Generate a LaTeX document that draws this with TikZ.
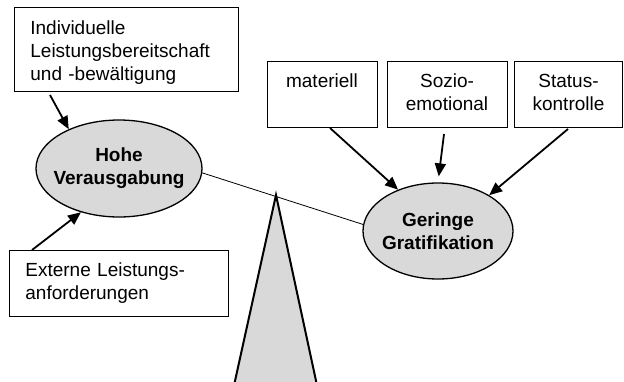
\documentclass[tikz,border=0pt]{standalone}
\usepackage{fontspec}
\setmainfont{Liberation Sans}
\usetikzlibrary{shapes,arrows.meta}
\definecolor{fillgray}{gray}{0.85}

\begin{document}
\begin{tikzpicture}[x=1pt,y=-1pt,
  every node/.style={font=\fontsize{19}{23}\selectfont},
  box/.style={draw, rectangle, line width=0.8pt, inner xsep=16pt},
  topbox/.style={box, anchor=north, align=center, inner xsep=0pt, text height=37pt, text depth=4pt, inner ysep=12.5pt},
  weight/.style={ellipse, draw, line width=1.3pt, fill=fillgray, font=\fontsize{19}{23}\selectfont\bfseries, align=center, inner xsep=-20pt, inner ysep=0pt},
  arr/.style={-{Triangle[length=13pt,width=11pt]}, line width=1.8pt}]
\useasboundingbox (0,0) rectangle (624,381);

\node (ind) at (14,7) [box, anchor=north west, text width=192pt, align=left, inner ysep=5pt, text height=22pt, text depth=52pt] {Individuelle\\Leistungsbereitschaft\\und -bew\"altigung};
\node (ext) at (9,250) [box, anchor=north west, text width=187pt, align=left, minimum height=66pt] {Externe Leistungs-\\anforderungen};
\node (mat) at (322,61) [topbox, minimum width=110pt, text height=14pt, text depth=27pt] {materiell};
\node (soz) at (447,61) [topbox, minimum width=120pt] {Sozio-\\emotional};
\node (sta) at (568.5,61) [topbox, minimum width=108pt] {Status-\\kontrolle};

\fill[fillgray] (276,195) -- (233,390) -- (318,390) -- cycle;
\draw[line width=2pt] (233,390) -- (276,195) -- (318,390);

\node (hohe) at (119,168.5) [weight, minimum width=166pt, minimum height=97pt] {Hohe\\Verausgabung};
\node (ger) at (438,231) [weight, minimum width=150pt, minimum height=96pt] {Geringe\\Gratifikation};

\draw[line width=0.8pt] (hohe.357) -- (ger.175);

\coordinate (ind-out) at (50,95);
\coordinate (ext-out) at (32,250);
\coordinate (mat-out) at (330,128);
\coordinate (soz-out) at (444,134);
\coordinate (sta-out) at (568,129);

\draw[arr] (ind-out) -- (hohe.142);
\draw[arr] (ext-out) -- (hohe.229);
\draw[arr] (mat-out) -- (ger.134);
\draw[arr, shorten >=6pt] (soz-out) -- (ger.90);
\draw[arr] (sta-out) -- (ger.35);

\end{tikzpicture}
\end{document}
